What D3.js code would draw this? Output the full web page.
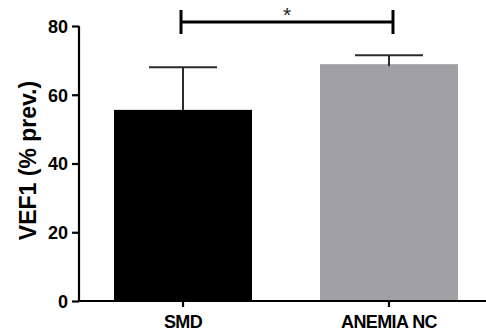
<!DOCTYPE html>
<html>
<head>
<meta charset="utf-8">
<script src="https://cdn.jsdelivr.net/npm/d3@7"></script>
<style>
  html, body { margin: 0; padding: 0; background: #fff; }
  svg { display: block; font-family: "Liberation Sans", Arial, sans-serif; font-weight: bold; }
</style>
</head>
<body>
<div id="chart"></div>
<script>
// data
const groups = ["SMD", "ANEMIA NC"];
const means = [55.6, 68.9];
const errUp = [12.4, 2.6];
const barColors = ["#000000", "#a09fa4"];
const yTicks = [0, 20, 40, 60, 80];
const sigPair = ["SMD", "ANEMIA NC"];
const sigLabel = "*";

const width = 486, height = 335;
const margin = { top: 26, left: 79, bottom: 34 };

const svg = d3.select("#chart").append("svg")
  .attr("width", width)
  .attr("height", height);

const y = d3.scaleLinear()
  .domain([0, 80])
  .range([height - margin.bottom, margin.top]);

const x = d3.scaleBand()
  .domain(groups)
  .range([margin.left, 493])
  .paddingInner(0.33)
  .paddingOuter(0.17);

// bars
svg.append("g").selectAll("rect")
  .data(groups)
  .join("rect")
  .attr("x", d => x(d))
  .attr("y", (d, i) => y(means[i]))
  .attr("width", x.bandwidth())
  .attr("height", (d, i) => y(0) - y(means[i]))
  .attr("fill", (d, i) => barColors[i]);

// error bars (upper only)
const capHalf = 34;
const eb = svg.append("g")
  .attr("stroke", "#2b2b2b")
  .attr("stroke-width", 2);
groups.forEach((g, i) => {
  const cx = x(g) + x.bandwidth() / 2;
  eb.append("line")
    .attr("x1", cx).attr("x2", cx)
    .attr("y1", y(means[i]) + (i === 1 ? 2 : 0)).attr("y2", y(means[i] + errUp[i]));
  eb.append("line")
    .attr("x1", cx - capHalf).attr("x2", cx + capHalf)
    .attr("y1", y(means[i] + errUp[i])).attr("y2", y(means[i] + errUp[i]));
});

// y axis
const yAxis = svg.append("g")
  .attr("transform", `translate(${margin.left},0)`)
  .call(d3.axisLeft(y).tickValues(yTicks).tickSize(7).tickPadding(4).tickSizeOuter(0));
yAxis.select(".domain").attr("stroke", "#000").attr("stroke-width", 2.2)
  .attr("d", `M0,${y(80)}V${y(0) + 1}`);
yAxis.selectAll(".tick line").attr("stroke", "#000").attr("stroke-width", 2.2);
yAxis.selectAll(".tick text")
  .attr("fill", "#000")
  .style("font-size", "18px")
  .style("font-weight", "bold")
  .attr("dy", "0.36em");

// x axis
const xAxis = svg.append("g")
  .attr("transform", `translate(0,${y(0)})`)
  .call(d3.axisBottom(x).tickSize(6).tickPadding(8).tickSizeOuter(0));
xAxis.select(".domain").attr("stroke", "#000").attr("stroke-width", 2.2)
  .attr("d", `M${margin.left},0H${width}`);
xAxis.selectAll(".tick line").attr("stroke", "#000").attr("stroke-width", 2.2);
xAxis.selectAll(".tick text")
  .attr("fill", "#000")
  .style("font-size", "18px")
  .style("font-weight", "bold")
  .style("letter-spacing", "-0.6px");

// y label
svg.append("text")
  .attr("transform", `translate(36,${(y(0) + y(80)) / 2 - 3}) rotate(-90)`)
  .attr("text-anchor", "middle")
  .style("font-size", "23px")
  .text("VEF1 (% prev.)");

// significance bracket
const sx1 = x(sigPair[0]) + x.bandwidth() / 2 - 2;
const sx2 = x(sigPair[1]) + x.bandwidth() / 2 + 4;
const sy = 22;
const sig = svg.append("g").attr("stroke", "#000").attr("stroke-width", 3);
sig.append("line").attr("x1", sx1).attr("x2", sx2).attr("y1", sy).attr("y2", sy);
sig.append("line").attr("x1", sx1).attr("x2", sx1).attr("y1", 10).attr("y2", 34);
sig.append("line").attr("x1", sx2).attr("x2", sx2).attr("y1", 10).attr("y2", 34);
svg.append("text")
  .attr("x", (sx1 + sx2) / 2)
  .attr("y", 22)
  .attr("text-anchor", "middle")
  .attr("fill", "#222")
  .style("font-size", "21px")
  .style("font-weight", "normal")
  .text(sigLabel);
</script>
</body>
</html>
